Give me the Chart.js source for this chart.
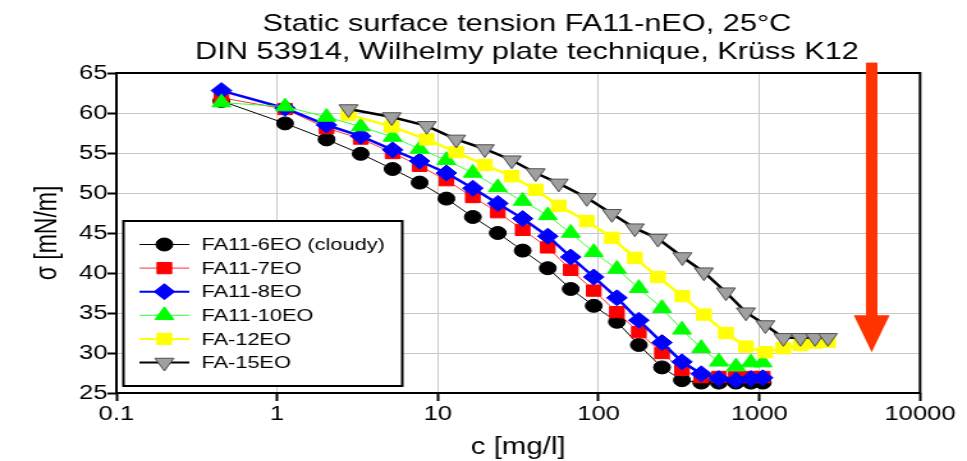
<!DOCTYPE html>
<html><head><meta charset="utf-8">
<script src="https://cdn.jsdelivr.net/npm/chart.js@4/dist/chart.umd.min.js"></script>
<style>
html,body{margin:0;padding:0;background:#fff;overflow:hidden}
#wrap{position:absolute;left:0;top:0;width:756px;height:461px;transform:scaleX(1.2791);transform-origin:0 0}
</style></head><body>
<div id="wrap"><canvas id="c"></canvas></div>
<script>
// ---- data ----
const titleLines = ['Static surface tension FA11-nEO, 25°C', 'DIN 53914, Wilhelmy plate technique, Krüss K12'];
const xTitle = 'c [mg/l]';
const yTitle = 'σ [mN/m]';
const xTickVals = [0.1, 1, 10, 100, 1000, 10000];
const xTickLabels = ['0.1', '1', '10', '100', '1000', '10000'];
const yTickVals = [25, 30, 35, 40, 45, 50, 55, 60, 65];
const seriesNames = ['FA11-6EO (cloudy)', 'FA11-7EO', 'FA11-8EO', 'FA11-10EO', 'FA-12EO', 'FA-15EO'];
// concentrations (mg/l) of the two dilution series
const concA = [0.45, 1.12, 2.03, 3.31, 5.23, 7.7, 11.3, 16.5, 23.6, 33.7, 48.3, 67.1, 93.3, 130, 178, 248, 330, 435, 560, 715, 886, 1050];
const concB = [2.78, 5.16, 8.52, 13.0, 19.6, 28.8, 40.6, 56.5, 84.4, 121, 168, 234, 332, 452, 620, 825, 1090, 1410, 1800, 2220, 2670];
// surface tension (mN/m)
const sigma6EO  = [61.5, 58.7, 56.7, 54.9, 53.0, 51.3, 49.3, 47.0, 45.0, 42.8, 40.6, 38.0, 35.9, 33.9, 31.0, 28.2, 26.6, 26.3, 26.3, 26.3, 26.3, 26.3];
const sigma7EO  = [61.9, 60.5, 58.1, 56.8, 55.0, 53.4, 51.6, 49.5, 47.6, 45.4, 43.2, 40.4, 37.8, 35.1, 32.6, 30.0, 27.9, 27.0, 27.0, 27.0, 27.0, 27.0];
const sigma8EO  = [62.8, 60.6, 58.5, 57.1, 55.4, 54.0, 52.5, 50.6, 48.7, 46.8, 44.6, 42.0, 39.5, 36.9, 34.1, 31.3, 28.9, 27.4, 26.8, 26.6, 26.8, 26.9];
const sigma10EO = [61.3, 60.8, 59.5, 58.3, 57.0, 55.5, 54.1, 52.5, 50.7, 49.0, 47.2, 45.0, 42.6, 40.5, 38.1, 35.6, 32.9, 30.6, 28.9, 28.3, 28.8, 28.8];
const sigma12EO = [59.8, 58.3, 56.7, 55.1, 53.5, 52.1, 50.4, 48.4, 46.5, 44.4, 41.9, 39.5, 37.1, 34.8, 32.5, 30.8, 30.1, 30.6, 31.0, 31.3, 31.4];
const sigma15EO = [60.5, 59.5, 58.4, 56.7, 55.5, 54.1, 52.5, 51.2, 49.4, 47.4, 45.6, 44.3, 42.0, 40.1, 37.6, 35.1, 33.5, 31.9, 31.9, 31.9, 31.9];
// red arrow annotation (data coordinates)
const arrowC = 5000, arrowFrom = 66.3, arrowTo = 30.1;

const FONT = '"Liberation Sans", Arial, sans-serif';
const pts = (xs, ys) => ys.map((y, i) => ({x: xs[i], y}));

const styles = [
  {line:'#000000', lw:1,   fill:'#000000', stroke:'#000000', shape:'circle',   r:6.5, rot:0},
  {line:'#ff3030', lw:1,   fill:'#ff0000', stroke:'#ff0000', shape:'rect',     r:8,   rot:0},
  {line:'#0000ff', lw:2.5, fill:'#0000ff', stroke:'#0000ff', shape:'rectRot',  r:8,   rot:0},
  {line:'#33ff33', lw:1,   fill:'#00ff00', stroke:'#00ff00', shape:'triangle', r:8.5, rot:0},
  {line:'#ffff00', lw:2.5, fill:'#ffff00', stroke:'#ffff00', shape:'rect',     r:8,   rot:0},
  {line:'#000000', lw:2.5, fill:'#a0a0a0', stroke:'#505050', shape:'triangle', r:8.5, rot:180}
];
const seriesData = [pts(concA, sigma6EO), pts(concA, sigma7EO), pts(concA, sigma8EO), pts(concA, sigma10EO), pts(concB, sigma12EO), pts(concB, sigma15EO)];

const datasets = seriesNames.map((name, i) => ({
  label: name,
  data: seriesData[i],
  showLine: true,
  borderColor: styles[i].line,
  borderWidth: styles[i].lw,
  backgroundColor: styles[i].fill,
  pointBackgroundColor: styles[i].fill,
  pointBorderColor: styles[i].stroke,
  pointBorderWidth: 1,
  pointStyle: styles[i].shape,
  pointRadius: styles[i].r,
  pointHoverRadius: styles[i].r,
  pointRotation: styles[i].rot,
  tension: 0,
  order: 6 - i
}));

function drawMarker(ctx, s, x, y) {
  const r = s.r; let rad = s.rot * Math.PI / 180;
  ctx.save();
  ctx.beginPath();
  if (s.shape === 'circle') ctx.arc(x, y, r, 0, Math.PI * 2);
  else if (s.shape === 'rect') { const h = Math.SQRT1_2 * r; ctx.rect(x - h, y - h, 2 * h, 2 * h); }
  else if (s.shape === 'rectRot') { ctx.moveTo(x - r, y); ctx.lineTo(x, y - r); ctx.lineTo(x + r, y); ctx.lineTo(x, y + r); ctx.closePath(); }
  else if (s.shape === 'triangle') {
    for (let k = 0; k < 3; k++) { const px = x + Math.sin(rad) * r, py = y - Math.cos(rad) * r; k ? ctx.lineTo(px, py) : ctx.moveTo(px, py); rad += 2 * Math.PI / 3; }
    ctx.closePath();
  }
  ctx.fillStyle = s.fill; ctx.fill();
  ctx.lineWidth = 1; ctx.strokeStyle = s.stroke; ctx.stroke();
  ctx.restore();
}

const decor = {
  id: 'decor',
  beforeDatasetsDraw(chart) {
    const {ctx, chartArea: a} = chart;
    ctx.save();
    ctx.strokeStyle = '#000'; ctx.lineWidth = 2;
    ctx.strokeRect(a.left, a.top, a.right - a.left, a.bottom - a.top);
    ctx.restore();
  },
  afterDraw(chart) {
    const {ctx, chartArea: a, scales} = chart;
    // title
    ctx.save();
    ctx.fillStyle = '#000'; ctx.font = '24px ' + FONT;
    ctx.textAlign = 'center'; ctx.textBaseline = 'middle';
    ctx.fillText(titleLines[0], 412, 24);
    ctx.fillText(titleLines[1], 412, 52);
    ctx.restore();
    // legend box
    const lx = a.left + 5.5, lw = 218, ly = 221, lh = 165;
    ctx.save();
    ctx.fillStyle = '#fff'; ctx.fillRect(lx, ly, lw, lh);
    ctx.strokeStyle = '#000'; ctx.lineWidth = 2; ctx.strokeRect(lx, ly, lw, lh);
    ctx.font = '17px ' + FONT; ctx.textBaseline = 'middle'; ctx.textAlign = 'left';
    seriesNames.forEach((name, i) => {
      const y = ly + 23.5 + i * 23.6;
      const s = styles[i];
      ctx.beginPath(); ctx.moveTo(lx + 12.5, y); ctx.lineTo(lx + 51.5, y);
      ctx.strokeStyle = s.line; ctx.lineWidth = Math.min(s.lw, 2); ctx.stroke();
      drawMarker(ctx, s, lx + 32, y);
      ctx.fillStyle = '#000'; ctx.fillText(name, lx + 61, y + 1);
    });
    ctx.restore();
    // red arrow
    const x = scales.x.getPixelForValue(arrowC);
    const y1 = scales.y.getPixelForValue(arrowFrom), y2 = scales.y.getPixelForValue(arrowTo);
    const headLen = 37, shaft = 9, headW = 28;
    ctx.save();
    ctx.fillStyle = '#ff3300';
    ctx.fillRect(x - shaft / 2, y1, shaft, (y2 - headLen) - y1 + 1);
    ctx.beginPath(); ctx.moveTo(x - headW / 2, y2 - headLen); ctx.lineTo(x + headW / 2, y2 - headLen); ctx.lineTo(x, y2); ctx.closePath(); ctx.fill();
    ctx.restore();
  }
};

new Chart(document.getElementById('c'), {
  type: 'scatter',
  data: {datasets},
  options: {
    responsive: true, maintainAspectRatio: false, animation: false,
    layout: {padding: {top: 73, right: 36.7, bottom: 0, left: 0}},
    plugins: {legend: {display: false}, title: {display: false}, tooltip: {enabled: false}},
    scales: {
      x: {
        type: 'logarithmic', min: 0.1, max: 10000,
        afterBuildTicks: ax => { ax.ticks = xTickVals.map(v => ({value: v})); },
        afterFit: ax => { ax.height = 68; },
        ticks: {callback: (v) => xTickLabels[xTickVals.indexOf(v)] ?? '', color: '#000', font: {size: 20, family: FONT}, padding: 1, maxRotation: 0, autoSkip: false},
        grid: {color: '#c8c8c8', lineWidth: 1, tickColor: '#000', tickLength: 8, tickWidth: 2},
        border: {display: false},
        title: {display: true, text: xTitle, color: '#000', font: {size: 23, family: FONT}, padding: {top: 4, bottom: 0}}
      },
      y: {
        min: 25, max: 65,
        afterBuildTicks: ax => { ax.ticks = yTickVals.map(v => ({value: v})); },
        afterFit: ax => { ax.width = 91; },
        ticks: {color: '#000', font: {size: 20, family: FONT}, padding: 0},
        grid: {color: '#c8c8c8', lineWidth: 1, tickColor: '#000', tickLength: 7, tickWidth: 2},
        border: {display: false},
        title: {display: true, text: yTitle, color: '#000', font: {size: 23, family: FONT}, padding: {top: 24, bottom: 0}}
      }
    }
  },
  plugins: [decor]
});
</script>
</body></html>
